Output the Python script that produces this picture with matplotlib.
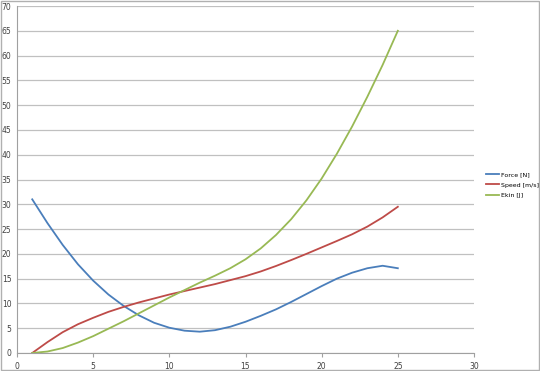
import matplotlib
matplotlib.use("Agg")
import matplotlib.pyplot as plt
from matplotlib.patches import Rectangle

# --- data ---
x = list(range(1, 26))
force = [31, 26.2, 21.8, 17.9, 14.6, 11.8, 9.5, 7.6, 6.1, 5.1, 4.5, 4.3, 4.6,
         5.3, 6.3, 7.5, 8.8, 10.3, 11.9, 13.5, 15.0, 16.2, 17.1, 17.6, 17.1]
speed = [0, 2.2, 4.2, 5.8, 7.1, 8.3, 9.3, 10.2, 11.0, 11.8, 12.5, 13.2, 13.9,
         14.7, 15.5, 16.45, 17.55, 18.75, 20.0, 21.3, 22.6, 23.95, 25.5, 27.35, 29.5]
ekin = [0, 0.3, 1.0, 2.1, 3.4, 4.9, 6.4, 8.0, 9.6, 11.2, 12.7, 14.2, 15.6,
        17.1, 18.9, 21.1, 23.8, 27.0, 30.8, 35.2, 40.2, 45.7, 51.7, 58.1, 65.0]
labels = ["Force [N]", "Speed [m/s]", "Ekin [J]"]
colors = ["#4A7EBB", "#BE4B48", "#98B954"]

fig = plt.figure(figsize=(5.4, 3.71), dpi=100)
ax = fig.add_axes([17 / 540, 1 - 353 / 371, 457 / 540, 347 / 371])

for ys, lab, c in zip([force, speed, ekin], labels, colors):
    ax.plot(x, ys, color=c, lw=1.3, label=lab, solid_joinstyle="round")

ax.set_xlim(0, 30)
ax.set_ylim(0, 70)
ax.set_xticks(range(0, 31, 5))
ax.set_yticks(range(0, 71, 5))
ax.yaxis.grid(True, color="#c0c0c0", lw=0.9)
ax.set_axisbelow(True)
for s in ["top", "right"]:
    ax.spines[s].set_visible(False)
for s in ["left", "bottom"]:
    ax.spines[s].set_color("#a0a0a0")
ax.tick_params(axis="both", labelsize=5.5, colors="#404040", length=3,
               width=0.8, direction="out")
ax.tick_params(axis="x", color="#a0a0a0")
ax.tick_params(axis="y", length=0, pad=4)

fig.legend(loc="center left", bbox_to_anchor=(486 / 540, 1 - 185 / 371),
           frameon=False, fontsize=4.5, handlelength=2.1, handletextpad=0.3,
           labelspacing=0.75, borderpad=0, borderaxespad=0)

fig.patches.append(Rectangle((0.002, 0.003), 0.996, 0.994, transform=fig.transFigure,
                             fill=False, edgecolor="#b0b0b0", lw=1.0))

fig.savefig("out.png", dpi=100)
